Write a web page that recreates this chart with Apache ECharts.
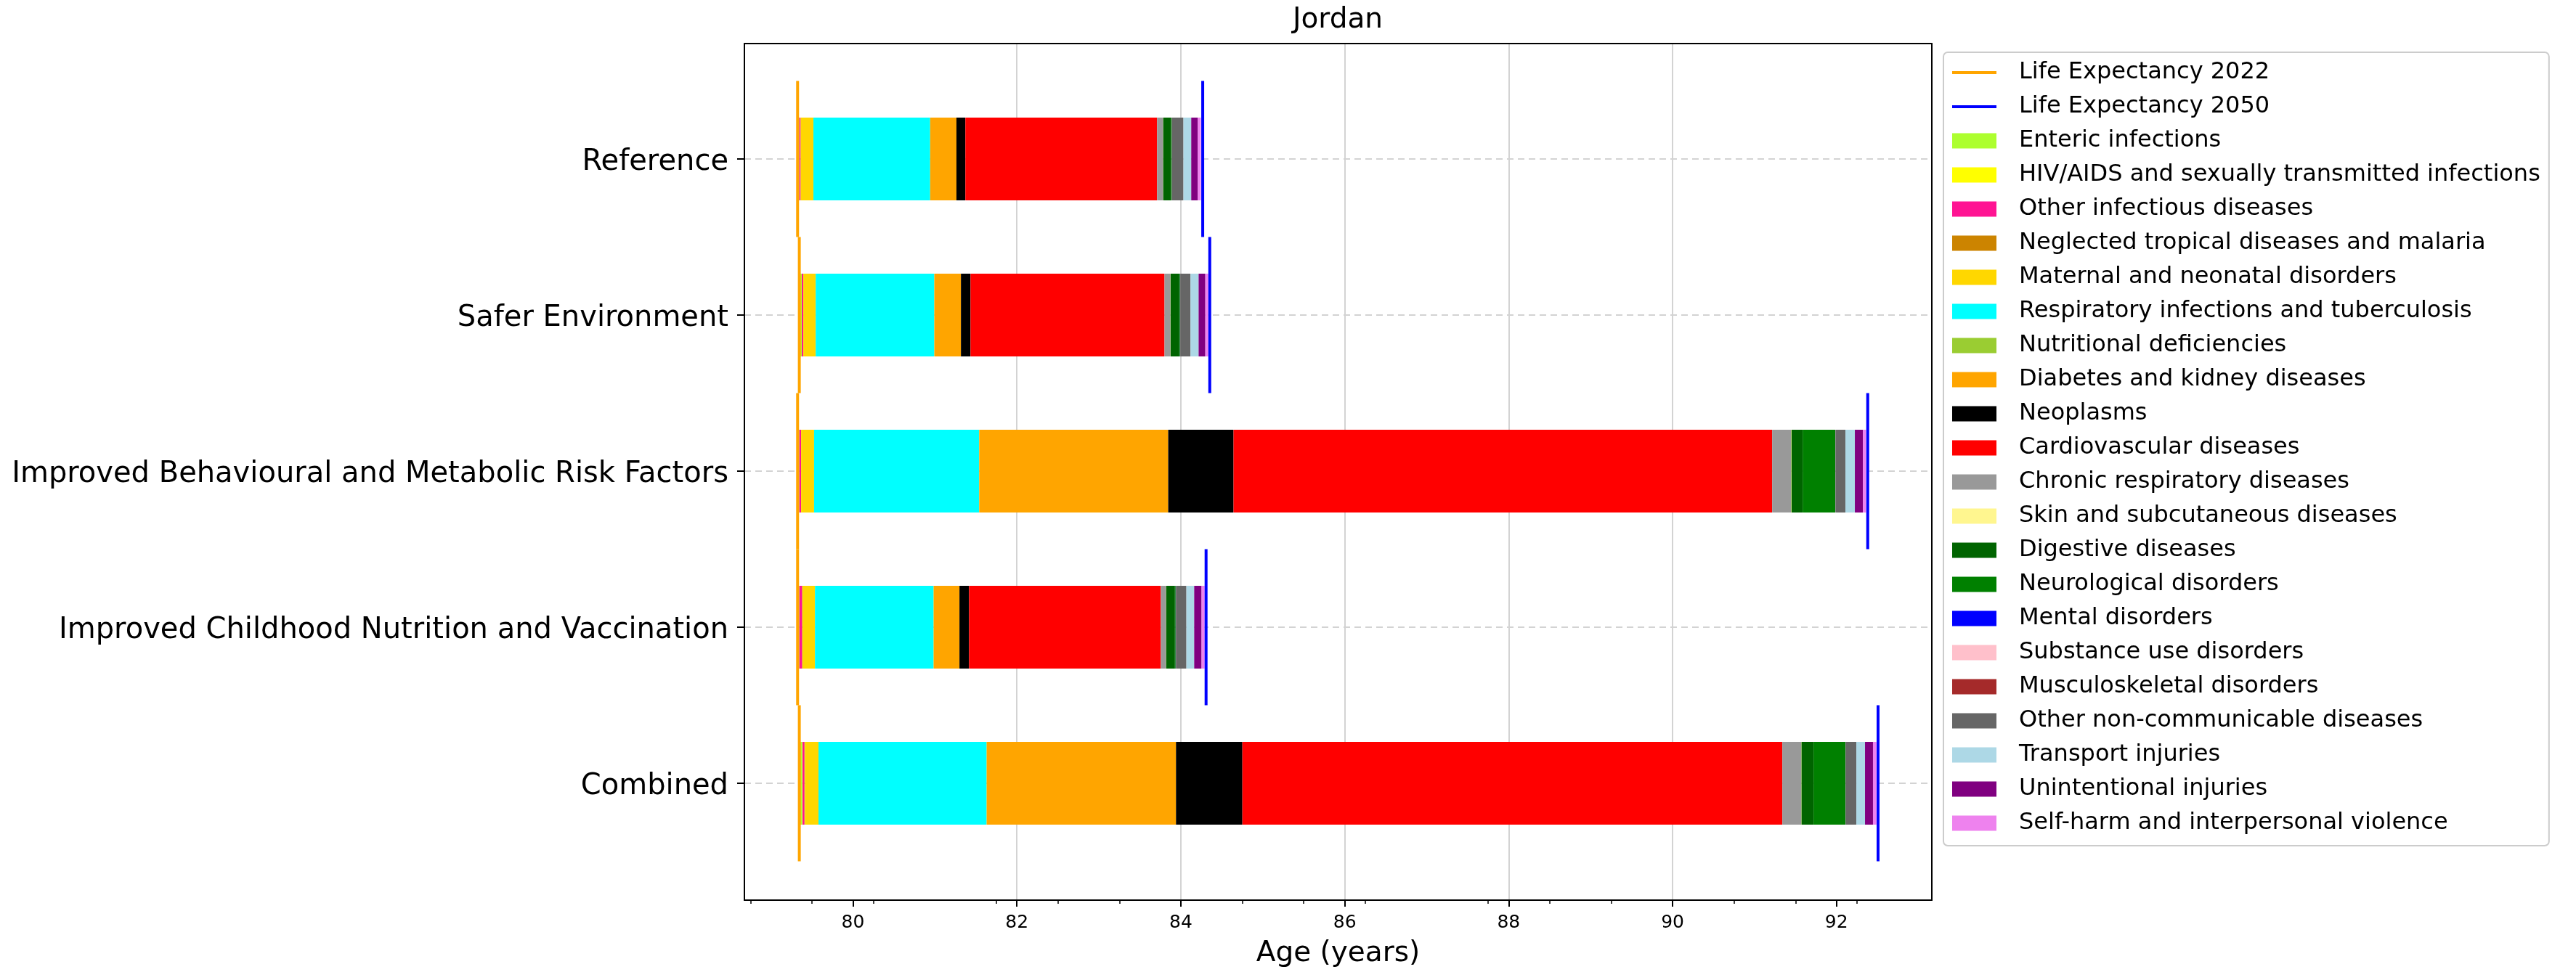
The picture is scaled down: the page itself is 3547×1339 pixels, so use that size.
<!DOCTYPE html>
<html>
<head>
<meta charset="utf-8">
<script src="https://cdn.jsdelivr.net/npm/echarts@6/dist/echarts.min.js"></script>
<style>html,body{margin:0;padding:0;background:#fff}#c{width:3547px;height:1339px}</style>
</head>
<body>
<div id="c"></div>
<script>
// ---------------- DATA ----------------
const categories = ['Reference', 'Safer Environment', 'Improved Behavioural and Metabolic Risk Factors', 'Improved Childhood Nutrition and Vaccination', 'Combined'];
const lifeExp2022 = [79.324, 79.345, 79.324, 79.324, 79.345];
const lifeExp2050 = [84.267, 84.353, 92.381, 84.308, 92.507];
const xTicks = [80, 82, 84, 86, 88, 90, 92];

const causes = ['Enteric infections', 'HIV/AIDS and sexually transmitted infections', 'Other infectious diseases', 'Neglected tropical diseases and malaria', 'Maternal and neonatal disorders', 'Respiratory infections and tuberculosis', 'Nutritional deficiencies', 'Diabetes and kidney diseases', 'Neoplasms', 'Cardiovascular diseases', 'Chronic respiratory diseases', 'Skin and subcutaneous diseases', 'Digestive diseases', 'Neurological disorders', 'Mental disorders', 'Substance use disorders', 'Musculoskeletal disorders', 'Other non-communicable diseases', 'Transport injuries', 'Unintentional injuries', 'Self-harm and interpersonal violence'];
const causeColors = ['#ADFF2F', '#FFFF00', '#FF1493', '#CC8400', '#FFD700', '#00FFFF', '#9ACD32', '#FFA500', '#000000', '#FF0000', '#999999', '#FFF68F', '#006400', '#008000', '#0000FF', '#FFC0CB', '#A52A2A', '#666666', '#ADD8E6', '#800080', '#EE82EE'];

// contributions (years), order follows categories
const enteric         = [0.021, 0.030, 0.021, 0.021, 0.035];
const hivSti          = [0.000, 0.000, 0.000, 0.000, 0.004];
const otherInfectious = [0.015, 0.018, 0.021, 0.035, 0.024];
const ntdMalaria      = [0.002, 0.001, 0.001, 0.003, 0.005];
const maternal        = [0.155, 0.151, 0.158, 0.153, 0.166];
const respiratory     = [1.424, 1.446, 2.013, 1.446, 2.050];
const nutritional     = [0.002, 0.002, 0.002, 0.004, 0.004];
const diabetes        = [0.319, 0.324, 2.306, 0.313, 2.308];
const neoplasms       = [0.109, 0.117, 0.797, 0.117, 0.810];
const cardiovascular  = [2.339, 2.367, 6.572, 2.340, 6.588];
const chronicResp     = [0.073, 0.072, 0.230, 0.063, 0.230];
const skin            = [0.002, 0.002, 0.006, 0.002, 0.004];
const digestive       = [0.097, 0.107, 0.136, 0.107, 0.147];
const neurological    = [0.009, 0.008, 0.398, 0.009, 0.389];
const mental          = [0.001, 0.001, 0.001, 0.001, 0.001];
const substance       = [0.001, 0.001, 0.001, 0.001, 0.001];
const musculoskeletal = [0.001, 0.001, 0.001, 0.001, 0.001];
const otherNCD        = [0.138, 0.125, 0.121, 0.128, 0.130];
const transport       = [0.095, 0.099, 0.115, 0.095, 0.106];
const unintentional   = [0.081, 0.082, 0.098, 0.090, 0.097];
const selfHarm        = [0.036, 0.036, 0.038, 0.037, 0.042];

const causeData = [enteric, hivSti, otherInfectious, ntdMalaria, maternal, respiratory, nutritional, diabetes, neoplasms, cardiovascular, chronicResp, skin, digestive, neurological, mental, substance, musculoskeletal, otherNCD, transport, unintentional, selfHarm];

// ---------------- CHART ----------------
const FONT = 'DejaVu Sans';
const xMin = 78.675, xMax = 93.163;
const chart = echarts.init(document.getElementById('c'), null, {renderer: 'canvas', width: 3547, height: 1339});

const frameLine = {show: true, onZero: false, lineStyle: {color: '#000', width: 2}};
// legend handle for the two line series: a 4px-high stroke inside a 61x21 box
const lineIcon = 'path://M0,0h0.01v0.01h-0.01z M0,8.5h61v4h-61z M60.99,20.99h0.01v0.01h-0.01z';

const series = [];
series.push({
  name: '_base', type: 'bar', stack: 'total', xAxisIndex: 2, yAxisIndex: 2,
  data: lifeExp2022, barWidth: 114, clip: false, silent: true,
  itemStyle: {color: 'rgba(0,0,0,0)'}, emphasis: {disabled: true}
});
causeData.forEach((arr, k) => {
  series.push({
    name: causes[k], type: 'bar', stack: 'total', xAxisIndex: 2, yAxisIndex: 2,
    data: arr, barWidth: 114, clip: false,
    itemStyle: {color: causeColors[k]}, emphasis: {disabled: true}
  });
});
categories.forEach((c, i) => {
  series.push({
    name: 'Life Expectancy 2022', type: 'line', xAxisIndex: 2, yAxisIndex: 3,
    data: [[lifeExp2022[i], i - 0.5], [lifeExp2022[i], i + 0.5]],
    symbol: 'none', clip: false, z: 5,
    lineStyle: {color: '#FFA500', width: 4}, itemStyle: {color: '#FFA500'}
  });
  series.push({
    name: 'Life Expectancy 2050', type: 'line', xAxisIndex: 2, yAxisIndex: 3,
    data: [[lifeExp2050[i], i - 0.5], [lifeExp2050[i], i + 0.5]],
    symbol: 'none', clip: false, z: 5,
    lineStyle: {color: '#0000FF', width: 4}, itemStyle: {color: '#0000FF'}
  });
});

const option = {
  animation: false,
  backgroundColor: '#fff',
  title: {
    text: 'Jordan', left: 1842, top: 8, textAlign: 'center', padding: 0,
    textStyle: {fontSize: 39, fontFamily: FONT, fontWeight: 'normal', color: '#000', lineHeight: 39}
  },
  legend: {
    orient: 'vertical', left: 2676, top: 72,
    padding: [12, 12, 15, 12], itemGap: 15, itemWidth: 61, itemHeight: 21,
    borderColor: '#cccccc', borderWidth: 2, borderRadius: 6, backgroundColor: '#fff',
    selectedMode: false,
    textStyle: {fontSize: 32, fontFamily: FONT, color: '#000', lineHeight: 30, padding: [0, 0, 0, 26]},
    data: [
      {name: 'Life Expectancy 2022', icon: lineIcon, itemStyle: {color: '#FFA500'}},
      {name: 'Life Expectancy 2050', icon: lineIcon, itemStyle: {color: '#0000FF'}}
    ].concat(causes.map(n => ({name: n, icon: 'rect'})))
  },
  grid: [
    {left: 1025, right: 887, top: 60, bottom: 99, outerBoundsMode: 'none', containLabel: false},
    {left: 1025, right: 887, top: 219, bottom: 260, outerBoundsMode: 'none', containLabel: false}
  ],
  xAxis: [
    {
      gridIndex: 0, type: 'value', min: xMin, max: xMax, position: 'bottom',
      axisLine: frameLine,
      axisTick: {show: true, customValues: xTicks, length: 9, lineStyle: {color: '#000', width: 2}},
      minorTick: {show: true, splitNumber: 4, length: 5, lineStyle: {color: '#000', width: 1.5}},
      axisLabel: {customValues: xTicks, fontSize: 25, fontFamily: FONT, color: '#000', margin: 19},
      splitLine: {show: true, showMinLine: false, showMaxLine: false, lineStyle: {color: '#d3d3d3', width: 2}},
      minorSplitLine: {show: false},
      name: 'Age (years)', nameLocation: 'middle', nameGap: 54,
      nameTextStyle: {fontSize: 39, fontFamily: FONT, color: '#000', lineHeight: 39}
    },
    {
      gridIndex: 0, type: 'value', min: xMin, max: xMax, position: 'top',
      axisLine: frameLine, axisTick: {show: false}, axisLabel: {show: false}, splitLine: {show: false}
    },
    {gridIndex: 1, type: 'value', min: xMin, max: xMax, show: false, splitLine: {show: false}}
  ],
  yAxis: [
    {gridIndex: 0, type: 'value', min: 0, max: 1, position: 'left', axisLine: frameLine, axisTick: {show: false}, axisLabel: {show: false}, splitLine: {show: false}},
    {gridIndex: 0, type: 'value', min: 0, max: 1, position: 'right', axisLine: frameLine, axisTick: {show: false}, axisLabel: {show: false}, splitLine: {show: false}},
    {
      gridIndex: 1, type: 'category', data: categories, inverse: true, boundaryGap: false, position: 'left',
      axisLine: {show: false},
      axisTick: {show: true, length: 10, interval: 0, lineStyle: {color: '#000', width: 2}},
      axisLabel: {
        fontSize: 40, fontFamily: FONT, color: '#000', margin: 22, interval: 0,
        formatter: v => '{l|' + v + '}',
        rich: {l: {fontSize: 40, fontFamily: FONT, color: '#000', padding: [9, 0, 0, 0]}}
      },
      splitLine: {show: true, interval: 0, lineStyle: {color: '#d3d3d3', width: 2, type: [9, 6]}}
    },
    {gridIndex: 1, type: 'value', min: 0, max: 4, inverse: true, show: false, position: 'right', splitLine: {show: false}}
  ],
  series: series
};
chart.setOption(option);
</script>
</body>
</html>
